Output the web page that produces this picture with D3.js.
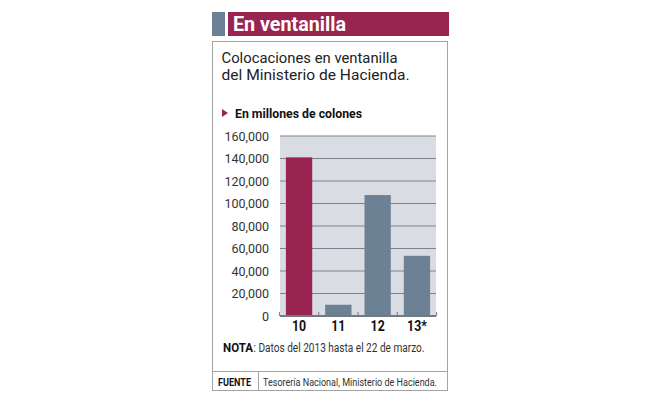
<!DOCTYPE html>
<html>
<head>
<meta charset="utf-8">
<script src="https://cdn.jsdelivr.net/npm/d3@7"></script>
<style>
  body { margin: 0; background: #fff; }
  text { font-family: Roboto, "Liberation Sans", sans-serif; }
</style>
</head>
<body>
<div id="chart"></div>
<script>
  'use strict';

  const years = ['10', '11', '12', '13*'];
  const values = [141000, 10000, 107500, 53500];
  const highlighted = ['10'];
  const yTicks = [0, 20000, 40000, 60000, 80000, 100000, 120000, 140000, 160000];

  const title = 'En ventanilla';
  const lines = ['Colocaciones en ventanilla', 'del Ministerio de Hacienda.'];
  const unit = 'En millones de colones';
  const noteText = ': Datos del 2013 hasta el 22 de marzo.';
  const source = 'Tesorería Nacional, Ministerio de Hacienda.';

  const W = 653, H = 398;
  const crimson = '#9a2450';
  const slate = '#6c8193';

  // the original uses a condensed face; squeeze the glyphs to the same width
  const narrow = (sel, w) => sel.attr('textLength', w).attr('lengthAdjust', 'spacingAndGlyphs');

  const svg = d3.select('#chart').append('svg')
    .attr('width', W)
    .attr('height', H);

  // header band
  svg.append('rect').attr('x', 212).attr('y', 12).attr('width', 13).attr('height', 24).attr('fill', slate);
  svg.append('rect').attr('x', 228).attr('y', 12).attr('width', 221).attr('height', 24).attr('fill', crimson);
  svg.append('text')
    .attr('x', 233).attr('y', 30.5)
    .attr('font-size', 20).attr('font-weight', 'bold')
    .attr('fill', '#fff').text(title)
    .call(narrow, 113);

  // box
  svg.append('rect').attr('x', 212.5).attr('y', 41.5).attr('width', 235).attr('height', 349)
    .attr('fill', 'none').attr('stroke', '#a3a3a3');
  svg.append('line').attr('x1', 212).attr('x2', 448).attr('y1', 371.5).attr('y2', 371.5).attr('stroke', '#a3a3a3');
  svg.append('line').attr('x1', 258.5).attr('x2', 258.5).attr('y1', 371).attr('y2', 391).attr('stroke', '#a3a3a3');

  const lineWidths = [176, 188];
  svg.append('g').selectAll('text').data(lines).enter().append('text')
    .attr('x', 221.5).attr('y', (d, i) => 62.8 + i * 16.8)
    .attr('font-size', 15.5)
    .attr('fill', '#222').text(d => d)
    .each(function (d, i) { d3.select(this).call(narrow, lineWidths[i]); });

  // unit label with marker
  svg.append('path').attr('d', 'M222,109 L228,113 L222,117 Z').attr('fill', crimson);
  svg.append('text')
    .attr('x', 235).attr('y', 118)
    .attr('font-size', 12.5).attr('font-weight', 'bold')
    .attr('fill', '#111').text(unit)
    .call(narrow, 127);

  // scales
  const x = d3.scaleBand().domain(years).range([280, 436]).paddingInner(0.33).paddingOuter(0.15);
  const y = d3.scaleLinear().domain([0, 160000]).range([316, 136]);

  const plot = svg.append('g');
  plot.append('rect').attr('x', 280).attr('y', y(160000)).attr('width', 156).attr('height', y(0) - y(160000))
    .attr('fill', '#d9dce2');

  plot.append('g').selectAll('line').data(yTicks.filter(d => d > 0)).enter().append('line')
    .attr('x1', 280).attr('x2', 436)
    .attr('y1', d => y(d)).attr('y2', d => y(d))
    .attr('stroke', '#78838e').attr('stroke-width', 1.2);

  plot.append('g').selectAll('text').data(yTicks).enter().append('text')
    .attr('x', 269).attr('y', d => y(d)).attr('dy', '0.36em')
    .attr('text-anchor', 'end')
    .attr('font-size', 12.5)
    .attr('fill', '#333')
    .text(d => d3.format(',')(d));

  plot.append('g').selectAll('rect').data(values).enter().append('rect')
    .attr('x', (d, i) => x(years[i]))
    .attr('y', d => y(d))
    .attr('width', x.bandwidth())
    .attr('height', d => y(0) - y(d))
    .attr('fill', (d, i) => highlighted.includes(years[i]) ? crimson : slate);

  // baseline + small ticks between bars
  plot.append('line').attr('x1', 280).attr('x2', 436).attr('y1', y(0)).attr('y2', y(0))
    .attr('stroke', '#6f7a85').attr('stroke-width', 2);
  const gap = x.step() * x.paddingInner() / 2;
  const tickPos = years.map(d => x(d) - gap).concat([x(years[years.length - 1]) + x.bandwidth() + gap]);
  plot.append('g').selectAll('line').data(tickPos).enter().append('line')
    .attr('x1', d => d).attr('x2', d => d)
    .attr('y1', y(0)).attr('y2', y(0) - 4)
    .attr('stroke', '#6f7a85').attr('stroke-width', 1);

  plot.append('g').selectAll('text').data(years).enter().append('text')
    .attr('x', d => x(d) + x.bandwidth() / 2).attr('y', 331)
    .attr('text-anchor', 'middle')
    .attr('font-size', 14).attr('font-weight', 'bold')
    .attr('fill', '#111').text(d => d)
    .each(function () {
      const w = this.getComputedTextLength();
      d3.select(this).call(narrow, w * 0.88);
    });

  // note
  svg.append('text')
    .attr('x', 223).attr('y', 352).attr('font-size', 12.5).attr('font-weight', 'bold')
    .attr('fill', '#111').text('NOTA')
    .call(narrow, 30);
  svg.append('text')
    .attr('x', 253.5).attr('y', 352).attr('font-size', 12.5)
    .attr('fill', '#333').text(noteText)
    .call(narrow, 171);

  // source
  svg.append('text')
    .attr('x', 218).attr('y', 385.5).attr('font-size', 11).attr('font-weight', 'bold')
    .attr('fill', '#111').text('FUENTE')
    .call(narrow, 33);
  svg.append('text')
    .attr('x', 263).attr('y', 385.5).attr('font-size', 11)
    .attr('fill', '#333').text(source)
    .call(narrow, 174);
</script>
</body>
</html>
